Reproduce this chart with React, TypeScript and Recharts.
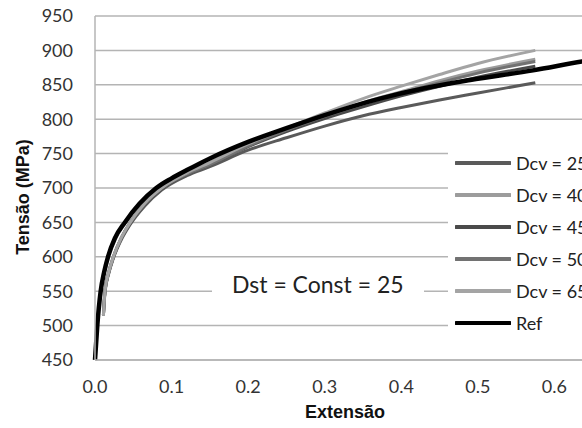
import {
  CartesianGrid,
  Label,
  Line,
  LineChart,
  XAxis,
  YAxis,
} from "recharts";

// extensão (x) e tensão (MPa)
const dcvX = [0.011, 0.013, 0.018, 0.024, 0.034, 0.046, 0.065, 0.087, 0.12, 0.15, 0.2, 0.25, 0.3, 0.35, 0.4, 0.45, 0.5, 0.575];
const dcv25 = [515, 548, 576, 598, 624, 647, 674, 697, 718, 731, 755, 773, 790, 805, 817, 828, 838, 853];
const dcv40 = [515, 550, 578, 600, 627, 650, 678, 700, 721, 735, 762, 785, 805, 824, 840, 856, 870, 887];
const dcv45 = [515, 549, 577, 599, 626, 649, 677, 699, 720, 734, 760, 782, 801, 818, 834, 848, 861, 877];
const dcv50 = [515, 550, 578, 600, 626, 650, 677, 700, 720, 734, 761, 784, 804, 822, 838, 853, 867, 884];
const dcv65 = [515, 550, 578, 600, 627, 650, 678, 700, 722, 737, 764, 787, 809, 830, 848, 865, 881, 900];

const refX = [0, 0.003, 0.0074, 0.012, 0.017, 0.026, 0.039, 0.058, 0.08, 0.1, 0.12, 0.15, 0.2, 0.25, 0.3, 0.372, 0.43, 0.49, 0.572, 0.636, 0.7];
const refY = [450, 500, 550, 578, 600, 627, 650, 677, 700, 714, 726, 743, 767, 787, 806, 830, 845, 857, 871, 884, 895];

const xTicks = [0, 0.1, 0.2, 0.3, 0.4, 0.5, 0.6];
const yTicks = [450, 500, 550, 600, 650, 700, 750, 800, 850, 900, 950];

const zip = (xs: number[], ys: number[]) => xs.map((x, i) => ({ x, y: ys[i] }));

const series = [
  { name: "Dcv = 25", color: "#5a5a5a", width: 3, data: zip(dcvX, dcv25) },
  { name: "Dcv = 40", color: "#9c9c9c", width: 3, data: zip(dcvX, dcv40) },
  { name: "Dcv = 45", color: "#4a4a4a", width: 3, data: zip(dcvX, dcv45) },
  { name: "Dcv = 50", color: "#727272", width: 3, data: zip(dcvX, dcv50) },
  { name: "Dcv = 65", color: "#a4a4a4", width: 3, data: zip(dcvX, dcv65) },
  { name: "Ref", color: "#000000", width: 4.5, data: zip(refX, refY) },
];

const FONT = "Lato, 'Open Sans', sans-serif";
const BOLD = "'Liberation Sans', Arial, sans-serif";
const GRID = "#b4b4b4";

// legenda dentro da área do gráfico (cortada à direita como no original)
function LegendBox() {
  return (
    <div
      style={{
        position: "absolute",
        left: 448,
        top: 140,
        width: 220,
        background: "#fff",
        padding: "7px 0 6px 7px",
        fontFamily: FONT,
        fontSize: 18,
        color: "#222",
      }}
    >
      {series.map((s) => (
        <div key={s.name} style={{ height: 32, display: "flex", alignItems: "center" }}>
          <svg width={56} height={8} style={{ marginRight: 5 }}>
            <line x1={1} y1={4} x2={55} y2={4} stroke={s.color} strokeWidth={4} strokeLinecap="round" />
          </svg>
          <span style={{ whiteSpace: "nowrap" }}>{s.name}</span>
        </div>
      ))}
    </div>
  );
}

export default function App() {
  return (
    <div style={{ position: "fixed", left: 0, top: 0, width: 582, height: 428, overflow: "hidden", background: "#fff" }}>
      <LineChart width={660} height={428} margin={{ top: 16, right: 29, bottom: 0, left: 0 }}>
        <CartesianGrid vertical={false} stroke={GRID} strokeWidth={1.5} />
        <XAxis
          type="number"
          dataKey="x"
          domain={[0, 0.7]}
          ticks={xTicks}
          tickFormatter={(v: number) => v.toFixed(1)}
          height={68}
          tickLine={false}
          tickSize={0}
          tickMargin={20}
          stroke={GRID}
          strokeWidth={1.5}
          tick={{ fontSize: 18, fontFamily: FONT, fill: "#333" }}
        >
          <Label value="Extensão" position="center" dx={-18} dy={18} style={{ fontSize: 18, fontWeight: 700, fontFamily: BOLD, fill: "#111" }} />
        </XAxis>
        <YAxis
          type="number"
          domain={[450, 950]}
          ticks={yTicks}
          width={95}
          tickLine={false}
          tickSize={0}
          tickMargin={22}
          stroke={GRID}
          strokeWidth={1.5}
          tick={{ fontSize: 18, fontFamily: FONT, fill: "#333" }}
        >
          <Label value="Tensão (MPa)" position="center" angle={-90} dx={-25} dy={9} style={{ fontSize: 18, fontWeight: 700, fontFamily: BOLD, fill: "#111" }} />
        </YAxis>
        {series.map((s) => (
          <Line
            key={s.name}
            name={s.name}
            data={s.data}
            dataKey="y"
            type="monotone"
            stroke={s.color}
            strokeWidth={s.width}
            dot={false}
            isAnimationActive={false}
          />
        ))}
      </LineChart>
      <LegendBox />
      <div
        style={{
          position: "absolute",
          left: 212,
          top: 268,
          width: 212,
          height: 32,
          background: "#fff",
          fontFamily: FONT,
          fontSize: 23,
          color: "#222",
          lineHeight: "32px",
          paddingLeft: 20,
          boxSizing: "border-box",
          whiteSpace: "nowrap",
        }}
      >
        Dst = Const = 25
      </div>
    </div>
  );
}
